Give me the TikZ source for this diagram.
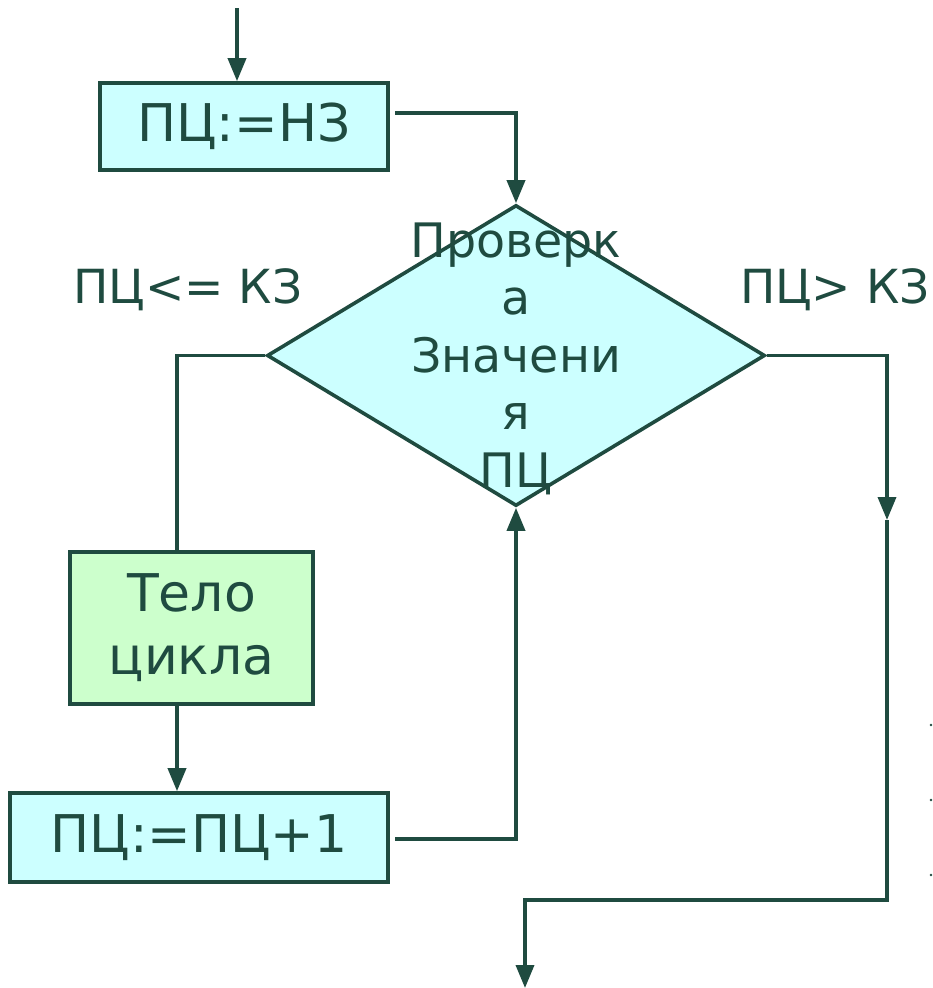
\documentclass[tikz,border=0pt]{standalone}
\usepackage{fontspec}
\setmainfont{DejaVu Sans}
\usetikzlibrary{shapes.geometric,arrows.meta}
\definecolor{ink}{RGB}{31,75,64}
\definecolor{procfill}{RGB}{204,255,255}
\definecolor{bodyfill}{RGB}{204,255,204}
\tikzset{
  flow/.style={draw=ink, line width=3.6pt, line join=miter},
  arr/.style={flow, -{Triangle[length=23pt,width=18pt]}},
  procbox/.style={draw=ink, line width=3.6pt, fill=procfill, text=ink, inner sep=0pt,
    font=\fontsize{52}{62}\selectfont},
  bodybox/.style={procbox, fill=bodyfill, align=center,
    font=\fontsize{52}{63}\selectfont},
  decision/.style={diamond, draw=ink, line width=3.6pt, fill=procfill, inner sep=0pt,
    aspect=1.654, minimum width=498pt, minimum height=301pt},
  dtext/.style={text=ink, align=center, font=\fontsize{47.5}{57.5}\selectfont},
  branch/.style={text=ink, font=\fontsize{47}{55}\selectfont, inner sep=0pt},
}
\begin{document}
\begin{tikzpicture}[x=1pt,y=-1pt]
\useasboundingbox (0,0) rectangle (932,988);

% blocks
\node[procbox, minimum width=288pt, minimum height=87pt] (init) at (244,126.5) {ПЦ:=НЗ};
\node[decision] (chk) at (516,355.5) {};
\node[dtext] (chktext) at ([yshift=-3pt]chk.center) {Проверк\\а\\Значени\\я\\ПЦ};
\node[bodybox, minimum width=243pt, minimum height=152pt] (body) at (191.5,628) {Тело\\цикла};
\node[procbox, minimum width=378pt, minimum height=89pt] (incr) at (199,837.5) {ПЦ:=ПЦ+1};

% branch labels
\node[branch] (yes) at (188,290) {ПЦ<= КЗ};
\node[branch] (no) at (835,290) {ПЦ> КЗ};

% routing points
\coordinate (start) at (237,8);
\coordinate (i0) at (395,113);
\coordinate (i1) at (516,113);
\coordinate (l0) at (177,355.5);
\coordinate (c0) at (395,839);
\coordinate (c1) at (516,839);
\coordinate (r0) at (887,355.5);
\coordinate (r1) at (887,520);
\coordinate (r2) at (887,900);
\coordinate (e0) at (525,900);
\coordinate (e1) at (525,988);

% connectors
\draw[arr] (start) -- (start |- init.north);
\draw[arr] (i0) -- (i1) -- (chk.north);
\draw[flow] (chk.west) -- (l0) -- (l0 |- body.north);
\draw[arr] (l0 |- body.south) -- (l0 |- incr.north);
\draw[arr] (c0) -- (c1) -- (chk.south);
\draw[arr] (chk.east) -- (r0) -- (r1);
\draw[arr] (r1) -- (r2) -- (e0) -- (e1);

% small marks at the right edge
\foreach \yy in {725,800,875} \fill[ink] (931,\yy) circle (1.3pt);
\end{tikzpicture}
\end{document}
